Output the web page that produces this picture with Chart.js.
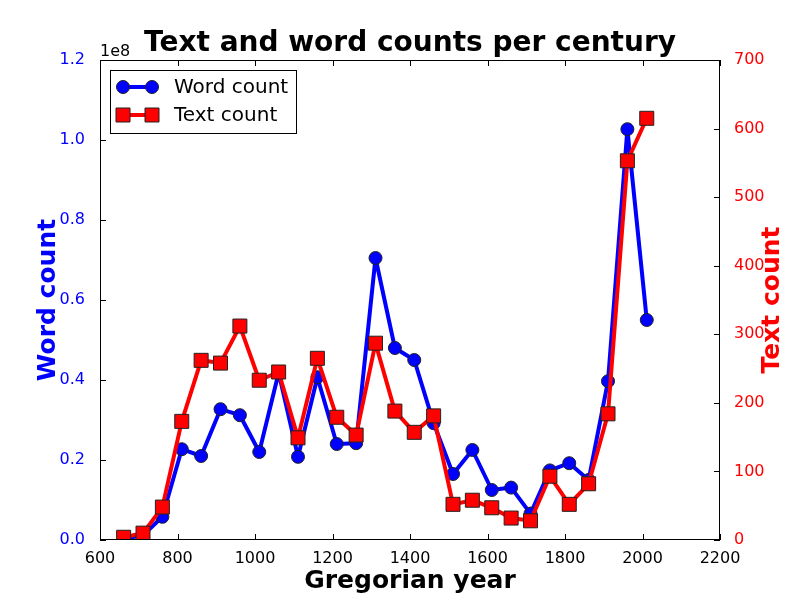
<!DOCTYPE html>
<html>
<head>
<meta charset="utf-8">
<script src="https://cdn.jsdelivr.net/npm/chart.js@4.4.1/dist/chart.umd.min.js"></script>
<style>
  html, body { margin: 0; padding: 0; background: #fff; }
  #wrap { width: 800px; height: 600px; }
</style>
</head>
<body>
<div id="wrap"><canvas id="chart" width="800" height="600"></canvas></div>
<script>
// years (middle of each 50-year bin)
const years = [661, 711, 761, 811, 861, 911, 961, 1011, 1061, 1111, 1161, 1211, 1261, 1311,
  1361, 1411, 1461, 1511, 1561, 1611, 1661, 1711, 1761, 1811, 1861, 1911, 1961, 2011];
const wordCounts = [0.3e6, 1.2e6, 5.8e6, 22.7e6, 21.0e6, 32.7e6, 31.2e6, 22.0e6, 41.8e6, 20.8e6,
  40.7e6, 24.0e6, 24.2e6, 70.5e6, 48.0e6, 45.0e6, 29.2e6, 16.5e6, 22.5e6, 12.5e6, 13.1e6, 6.6e6,
  17.4e6, 19.2e6, 15.0e6, 39.7e6, 102.7e6, 55.0e6];
const textCounts = [4, 10, 48, 173, 262, 258, 312, 233, 245, 149, 265, 179, 153, 287, 188, 157,
  181, 52, 58, 47, 32, 28, 93, 52, 82, 184, 553, 615];
const xTicks = [600, 800, 1000, 1200, 1400, 1600, 1800, 2000, 2200];

const FONT = '"DejaVu Sans", sans-serif';

const decorations = {
  id: 'decorations',
  afterDraw(chart) {
    const ctx = chart.ctx;
    const a = chart.chartArea;
    const sx = chart.scales.x, sy = chart.scales.y, sy2 = chart.scales.y2;
    ctx.save();
    // frame
    ctx.strokeStyle = '#000';
    ctx.lineWidth = 1;
    ctx.strokeRect(a.left + 0.5, a.top + 0.5, a.right - a.left - 1, a.bottom - a.top - 1);
    // inward ticks
    const L = 6;
    ctx.beginPath();
    sx.ticks.forEach(t => {
      const p = Math.round(sx.getPixelForValue(t.value)) + 0.5;
      ctx.moveTo(p, a.bottom); ctx.lineTo(p, a.bottom - L);
      ctx.moveTo(p, a.top); ctx.lineTo(p, a.top + L);
    });
    sy.ticks.forEach(t => {
      const p = Math.round(sy.getPixelForValue(t.value)) + 0.5;
      ctx.moveTo(a.left, p); ctx.lineTo(a.left + L, p);
    });
    sy2.ticks.forEach(t => {
      const p = Math.round(sy2.getPixelForValue(t.value)) + 0.5;
      ctx.moveTo(a.right, p); ctx.lineTo(a.right - L, p);
    });
    ctx.stroke();

    // title and axis labels
    ctx.fillStyle = '#000';
    ctx.textAlign = 'center';
    ctx.textBaseline = 'middle';
    ctx.font = 'bold 28px ' + FONT;
    ctx.fillText('Text and word counts per century', (a.left + a.right) / 2, 44);
    ctx.font = 'bold 25px ' + FONT;
    ctx.fillText('Gregorian year', (a.left + a.right) / 2, 581);

    ctx.save();
    ctx.translate(48, (a.top + a.bottom) / 2);
    ctx.rotate(-Math.PI / 2);
    ctx.fillStyle = '#0000ff';
    ctx.fillText('Word count', 0, 0);
    ctx.restore();

    ctx.save();
    ctx.translate(772, (a.top + a.bottom) / 2);
    ctx.rotate(-Math.PI / 2);
    ctx.fillStyle = '#ff0000';
    ctx.fillText('Text count', 0, 0);
    ctx.restore();

    // offset text
    ctx.font = '16px ' + FONT;
    ctx.textAlign = 'left';
    ctx.textBaseline = 'alphabetic';
    ctx.fillStyle = '#000';
    ctx.fillText('1e8', a.left, a.top - 4);

    // legend
    const bx = 110, by = 70, bw = 186, bh = 63;
    ctx.fillStyle = '#fff';
    ctx.fillRect(bx, by, bw, bh);
    ctx.strokeStyle = '#000';
    ctx.strokeRect(bx + 0.5, by + 0.5, bw, bh);
    const rows = [
      { y: 87, color: '#0000ff', label: 'Word count', shape: 'circle' },
      { y: 115, color: '#ff0000', label: 'Text count', shape: 'rect' }
    ];
    rows.forEach(r => {
      ctx.strokeStyle = r.color;
      ctx.lineWidth = 4;
      ctx.beginPath();
      ctx.moveTo(123, r.y); ctx.lineTo(152, r.y);
      ctx.stroke();
      ctx.lineWidth = 1;
      ctx.strokeStyle = '#222';
      ctx.fillStyle = r.color;
      [123, 152].forEach(cx => {
        ctx.beginPath();
        if (r.shape === 'circle') ctx.arc(cx, r.y, 6.5, 0, Math.PI * 2);
        else ctx.rect(cx - 7, r.y - 7, 14, 14);
        ctx.fill(); ctx.stroke();
      });
      ctx.fillStyle = '#000';
      ctx.font = '20px ' + FONT;
      ctx.textBaseline = 'middle';
      ctx.fillText(r.label, 174, r.y + 1);
    });
    ctx.restore();
  }
};

new Chart(document.getElementById('chart'), {
  type: 'line',
  data: {
    datasets: [
      {
        label: 'Text count',
        data: years.map((x, i) => ({ x: x, y: textCounts[i] })),
        yAxisID: 'y2',
        order: 0,
        borderColor: '#ff0000',
        backgroundColor: '#ff0000',
        borderWidth: 4,
        borderJoinStyle: 'round',
        pointStyle: 'rect',
        pointRadius: 9.9,
        pointBorderColor: '#222',
        pointBorderWidth: 1,
        pointBackgroundColor: '#ff0000',
        tension: 0
      },
      {
        label: 'Word count',
        data: years.map((x, i) => ({ x: x, y: wordCounts[i] })),
        yAxisID: 'y',
        order: 1,
        borderColor: '#0000ff',
        backgroundColor: '#0000ff',
        borderWidth: 4,
        borderJoinStyle: 'round',
        pointStyle: 'circle',
        pointRadius: 6.5,
        pointBorderColor: '#222',
        pointBorderWidth: 1,
        pointBackgroundColor: '#0000ff',
        tension: 0
      }
    ]
  },
  options: {
    responsive: false,
    animation: false,
    layout: { padding: { top: 60, left: 0, right: 0, bottom: 0 } },
    plugins: { legend: { display: false }, title: { display: false }, tooltip: { enabled: false } },
    scales: {
      x: {
        type: 'linear', min: 600, max: 2200,
        afterBuildTicks: s => { s.ticks = xTicks.map(v => ({ value: v })); },
        afterFit: s => { s.height = 60; },
        grid: { display: false },
        border: { display: false },
        ticks: {
          color: '#000', padding: 1, maxRotation: 0,
          font: { family: FONT, size: 16 },
          callback: v => String(v)
        }
      },
      y: {
        position: 'left', min: 0, max: 1.2e8,
        afterFit: s => { s.width = 100; },
        grid: { display: false },
        border: { display: false },
        ticks: {
          stepSize: 0.2e8, color: '#0000ff', padding: 7,
          font: { family: FONT, size: 16 },
          callback: v => (v / 1e8).toFixed(1)
        }
      },
      y2: {
        position: 'right', min: 0, max: 700,
        afterFit: s => { s.width = 80; },
        grid: { display: false },
        border: { display: false },
        ticks: { stepSize: 100, color: '#ff0000', padding: 6, font: { family: FONT, size: 16 } }
      }
    }
  },
  plugins: [decorations]
});
</script>
</body>
</html>
